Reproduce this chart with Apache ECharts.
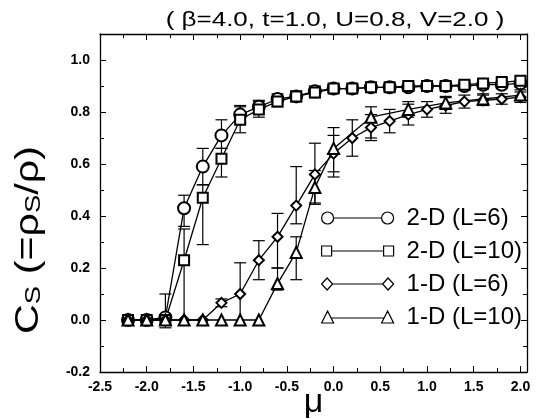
<!DOCTYPE html>
<html><head><meta charset="utf-8">
<script src="https://cdn.jsdelivr.net/npm/echarts@6/dist/echarts.min.js"></script>
<style>html,body{margin:0;padding:0;background:#fff}#c{width:538px;height:419px}</style>
</head><body><div id="c"></div>
<script>
// chemical potential mu (x values)
const mu = [-2.2,-2.0,-1.8,-1.6,-1.4,-1.2,-1.0,-0.8,-0.6,-0.4,-0.2,0.0,0.2,0.4,0.6,0.8,1.0,1.2,1.4,1.6,1.8,2.0];
const seriesNames = ['2-D (L=6)','2-D (L=10)','1-D (L=6)','1-D (L=10)'];
const titleText = '( β=4.0, t=1.0, U=0.8, V=2.0 )';
// 2-D L=6 (circles)
const d2L6   = [0,0,0.01,0.43,0.59,0.71,0.79,0.82,0.85,0.86,0.88,0.89,0.89,0.895,0.895,0.895,0.90,0.90,0.90,0.905,0.905,0.91];
const d2L6Up = [0,0,0.09,0.05,0.07,0.06,0.035,0.025,0.02,0.02,0.02,0.015,0.015,0.015,0.015,0.015,0.015,0.015,0.015,0.015,0.015,0.015];
const d2L6Dn = [0,0,0.04,0.07,0.07,0.05,0.035,0.025,0.02,0.02,0.02,0.015,0.015,0.015,0.015,0.015,0.015,0.015,0.015,0.015,0.015,0.015];
// 2-D L=10 (squares)
const d2L10   = [0,0,0,0.23,0.47,0.62,0.77,0.81,0.84,0.86,0.875,0.89,0.89,0.895,0.895,0.90,0.90,0.90,0.905,0.91,0.915,0.92];
const d2L10Up = [0,0,0,0.12,0.05,0.04,0.05,0.03,0.02,0.02,0.02,0.015,0.015,0.015,0.015,0.015,0.015,0.015,0.015,0.015,0.015,0.015];
const d2L10Dn = [0,0,0,0.23,0.18,0.07,0.05,0.03,0.02,0.02,0.02,0.015,0.015,0.015,0.015,0.015,0.015,0.015,0.015,0.015,0.015,0.015];
// 1-D L=6 (diamonds)
const d1L6   = [0,0,0,0,0,0.066,0.10,0.23,0.32,0.44,0.56,0.64,0.70,0.74,0.765,0.79,0.81,0.825,0.84,0.845,0.85,0.857];
const d1L6Up = [0,0,0,0,0,0.015,0.12,0.075,0.09,0.15,0.12,0.07,0.07,0.05,0.045,0.04,0.03,0.03,0.025,0.02,0.02,0.02];
const d1L6Dn = [0,0,0,0,0,0.015,0.12,0.075,0.12,0.07,0.11,0.07,0.07,0.05,0.045,0.04,0.03,0.03,0.025,0.02,0.02,0.02];
// 1-D L=10 (triangles)
const d1L10   = [0,0,0,0,0,0,0,0,0.14,0.26,0.51,0.66,null,0.78,null,0.81,null,0.835,null,0.85,null,0.865];
const d1L10Up = [0,0,0,0,0,0,0,0,0.06,0.06,0.065,0.08,0,0.04,0,0.03,0,0.025,0,0.02,0,0.02];
const d1L10Dn = [0,0,0,0,0,0,0,0,0.025,0.105,0.065,0.11,0,0.08,0,0.03,0,0.025,0,0.02,0,0.02];
// axis ticks
const xMin = -2.5, xMax = 2.07, xStep = 0.5;
const yMin = -0.2, yMax = 1.1, yStep = 0.2;

const FONT = 'Liberation Sans';
function pts(v){ return mu.map((m,i)=> v[i]==null ? null : [m, v[i]]).filter(p=>p); }
function errs(v,up,dn){
  const out=[];
  mu.forEach((m,i)=>{ if(v[i]!=null && (up[i]>0 || dn[i]>0)) out.push([m, v[i]-dn[i], v[i]+up[i], up[i]>0?1:0, dn[i]>0?1:0]); });
  return out;
}
function errSeries(data){
  return {
    type:'custom', data:data, z:1, silent:true, encode:{x:0,y:[1,2]},
    renderItem:function(params, api){
      const x=api.value(0);
      const lo=api.coord([x, api.value(1)]), hi=api.coord([x, api.value(2)]);
      const st={stroke:'#000', lineWidth:1.2};
      const w=6;
      const ch=[{type:'line', shape:{x1:lo[0],y1:lo[1],x2:hi[0],y2:hi[1]}, style:st}];
      if(api.value(3)) ch.push({type:'line', shape:{x1:hi[0]-w,y1:hi[1],x2:hi[0]+w,y2:hi[1]}, style:st});
      if(api.value(4)) ch.push({type:'line', shape:{x1:lo[0]-w,y1:lo[1],x2:lo[0]+w,y2:lo[1]}, style:st});
      return {type:'group', children:ch};
    }
  };
}
function lineSeries(name, v, symbol, size){
  return {
    name:name, type:'line', data:pts(v), symbol:symbol, symbolSize:size, showAllSymbol:true,
    connectNulls:true, z:3,
    lineStyle:{color:'#000', width:1.3}, itemStyle:{color:'#000', borderColor:'#000', borderWidth:1.3},
    emphasis:{disabled:true}
  };
}
const axisCommon = {
  axisLine:{show:true, onZero:false, lineStyle:{color:'#000', width:1.3}},
  axisTick:{show:true, inside:true, length:6, lineStyle:{color:'#000', width:1}},
  minorTick:{show:true, splitNumber:2, length:4, lineStyle:{color:'#000', width:1}},
  splitLine:{show:false}, minorSplitLine:{show:false}
};
const labelStyle = {color:'#000', fontFamily:FONT, fontWeight:'bold', fontSize:14, showMaxLabel:false, formatter:v=>v.toFixed(1)};

const icons = {
  c:'path://M0,7 A6,6 0 1,1 12,7 A6,6 0 1,1 0,7 Z M12,7 L60,7 M60,7 A6,6 0 1,1 72,7 A6,6 0 1,1 60,7 Z',
  s:'path://M0,2 L10,2 L10,12 L0,12 Z M10,7 L62,7 M62,2 L72,2 L72,12 L62,12 Z',
  d:'path://M0,7 L5.5,1 L11,7 L5.5,13 Z M11,7 L61,7 M61,7 L66.5,1 L72,7 L66.5,13 Z',
  t:'path://M0,13 L6,1 L12,13 Z M9.5,8 L62.5,8 M60,13 L66,1 L72,13 Z'
};
const legStyle = {color:'#fff', borderColor:'#000', borderWidth:1.2};

const option = {
  animation:false,
  backgroundColor:'#fff',
  grid:{left:100, right:11, top:34, bottom:47, outerBoundsMode:'none'},
  legend:{orient:'vertical', left:321, top:206, padding:0, itemGap:9, itemWidth:72, itemHeight:14,
    selectedMode:false,
    textStyle:{fontFamily:FONT, fontSize:24, color:'#000', lineHeight:24, padding:[0,0,0,8]},
    data:[
      {name:seriesNames[0], icon:icons.c, itemStyle:legStyle},
      {name:seriesNames[1], icon:icons.s, itemStyle:legStyle},
      {name:seriesNames[2], icon:icons.d, itemStyle:legStyle},
      {name:seriesNames[3], icon:icons.t, itemStyle:legStyle}
    ]},
  xAxis:[
    Object.assign({type:'value', position:'bottom', min:xMin, max:xMax, interval:xStep,
      axisLabel:Object.assign({margin:8}, labelStyle),
      name:'μ', nameLocation:'middle', nameGap:14, nameMoveOverlap:false,
      nameTextStyle:{fontFamily:FONT, fontSize:34, color:'#000'}}, axisCommon),
    Object.assign({type:'value', position:'top', min:xMin, max:xMax, interval:xStep,
      axisLabel:{show:false}}, axisCommon)
  ],
  yAxis:[
    Object.assign({type:'value', position:'left', min:yMin, max:yMax, interval:yStep,
      axisLabel:Object.assign({margin:10}, labelStyle)}, axisCommon),
    Object.assign({type:'value', position:'right', min:yMin, max:yMax, interval:yStep,
      axisLabel:{show:false}}, axisCommon)
  ],
  graphic:[{
    type:'text', x:335, y:20, scaleX:1.3, silent:true,
    style:{text:titleText, align:'center', verticalAlign:'middle', fill:'#000',
      fontFamily:FONT, fontSize:20}
  },{
    type:'text', x:28, y:240, rotation:Math.PI/2, scaleX:1.25, silent:true,
    style:{
      text:'{c|C}{s|S}{c| (=ρ}{s|S}{c|/ρ)}',
      align:'center', verticalAlign:'middle', fill:'#000',
      rich:{
        c:{fontFamily:FONT, fontSize:33, lineHeight:34, verticalAlign:'bottom', fill:'#000'},
        s:{fontFamily:FONT, fontSize:22, lineHeight:34, verticalAlign:'bottom', fill:'#000'}
      }
    }
  }],
  series:[
    errSeries(errs(d2L6,d2L6Up,d2L6Dn)),
    errSeries(errs(d2L10,d2L10Up,d2L10Dn)),
    errSeries(errs(d1L6,d1L6Up,d1L6Dn)),
    errSeries(errs(d1L10,d1L10Up,d1L10Dn)),
    lineSeries(seriesNames[0], d2L6, 'emptyCircle', 12),
    lineSeries(seriesNames[1], d2L10, 'emptyRect', 10),
    lineSeries(seriesNames[2], d1L6, 'emptyDiamond', 10),
    lineSeries(seriesNames[3], d1L10, 'emptyTriangle', 11)
  ]
};
echarts.init(document.getElementById('c'), null, {renderer:'canvas'}).setOption(option);
</script></body></html>
